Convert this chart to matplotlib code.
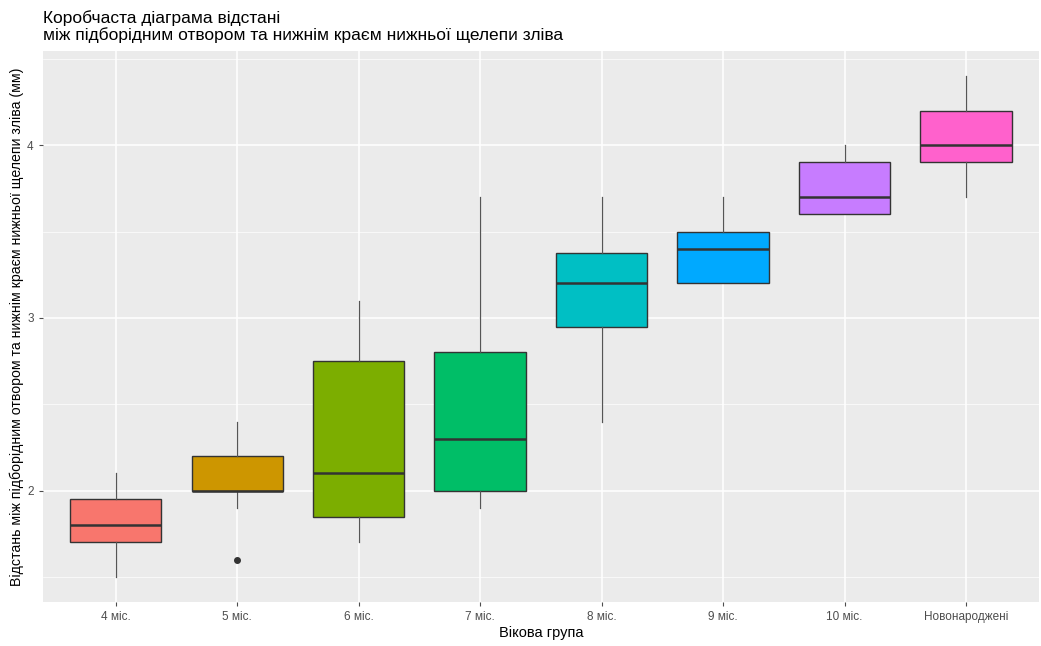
import matplotlib.pyplot as plt
from matplotlib.ticker import MultipleLocator

# дані
groups = ['4 міс.', '5 міс.', '6 міс.', '7 міс.', '8 міс.', '9 міс.', '10 міс.', 'Новонароджені']
whislo = [1.5, 1.9, 1.7, 1.9, 2.4, 3.2, 3.6, 3.7]
q1     = [1.7, 2.0, 1.85, 2.0, 2.95, 3.2, 3.6, 3.9]
med    = [1.8, 2.0, 2.1, 2.3, 3.2, 3.4, 3.7, 4.0]
q3     = [1.95, 2.2, 2.75, 2.8, 3.375, 3.5, 3.9, 4.2]
whishi = [2.1, 2.4, 3.1, 3.7, 3.7, 3.7, 4.0, 4.4]
fliers = [[], [1.6], [], [], [], [], [], []]
colors = ['#F8766D', '#CD9600', '#7CAE00', '#00BE67', '#00BFC4', '#00A9FF', '#C77CFF', '#FF61CC']

plt.rcParams['font.family'] = ['Liberation Sans', 'DejaVu Sans']

fig = plt.figure(figsize=(10.41, 6.46), dpi=100)
ax = fig.add_axes([0.041, 0.068, 0.957, 0.853])

stats = []
for i in range(len(groups)):
    stats.append({'label': groups[i], 'whislo': whislo[i], 'q1': q1[i], 'med': med[i],
                  'q3': q3[i], 'whishi': whishi[i], 'fliers': fliers[i]})

bp = ax.bxp(stats, positions=range(1, len(groups) + 1), widths=0.75, patch_artist=True,
            showcaps=False, zorder=3,
            boxprops=dict(edgecolor='#333333', linewidth=1.0),
            medianprops=dict(color='#333333', linewidth=1.8),
            whiskerprops=dict(color='#555555', linewidth=0.9),
            flierprops=dict(marker='o', markerfacecolor='#333333', markeredgecolor='#333333',
                            markersize=4))
for patch, c in zip(bp['boxes'], colors):
    patch.set_facecolor(c)

# оформлення у стилі ggplot
ax.set_facecolor('#EBEBEB')
for s in ax.spines.values():
    s.set_visible(False)
ax.set_xlim(0.4, len(groups) + 0.6)
ax.set_ylim(1.355, 4.545)
ax.yaxis.set_major_locator(MultipleLocator(1))
ax.yaxis.set_minor_locator(MultipleLocator(0.5))
ax.grid(which='major', color='white', linewidth=1.1, zorder=0)
ax.grid(which='minor', axis='y', color='white', linewidth=0.5, zorder=0)
ax.set_axisbelow(True)
ax.tick_params(which='major', length=3, color='#4D4D4D', labelcolor='#4D4D4D', labelsize=8.5)
ax.tick_params(which='minor', length=0)
ax.set_xticks(range(1, len(groups) + 1))
ax.set_xticklabels(groups)
ax.set_yticks([2, 3, 4])
ax.set_yticklabels(['2', '3', '4'])

ax.set_xlabel('Вікова група', fontsize=10.5, labelpad=2)
ax.set_ylabel('Відстань між підборідним отвором та нижнім краєм нижньої щелепи зліва (мм)',
              fontsize=10.2, labelpad=2)
ax.set_title('Коробчаста діаграма відстані\nміж підборідним отвором та нижнім краєм нижньої щелепи зліва',
             loc='left', fontsize=12.5, pad=8, x=0.0, linespacing=1.1)

fig.savefig('out.png', dpi=100)
